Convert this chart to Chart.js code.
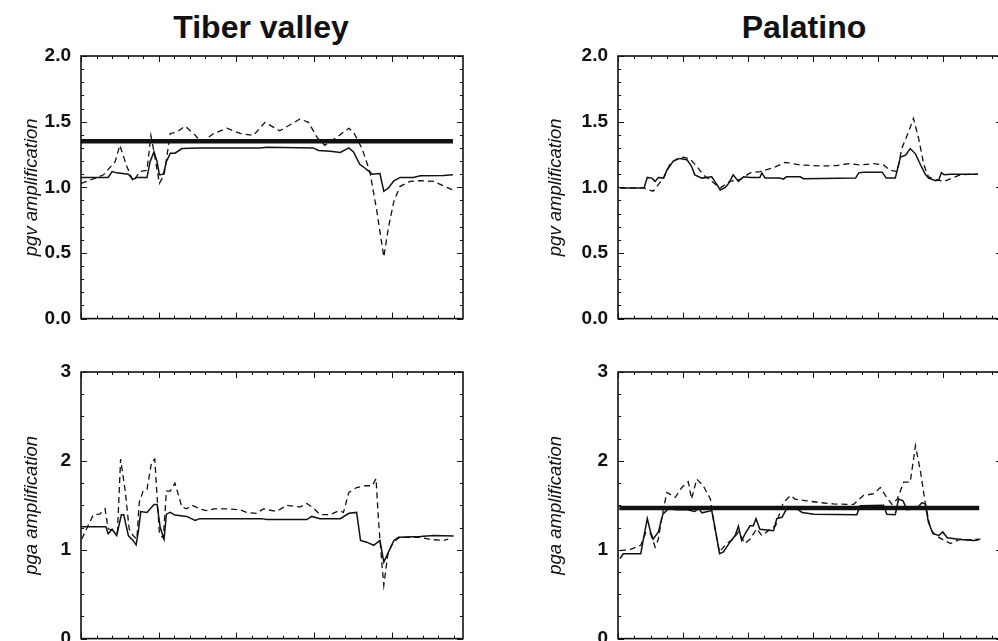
<!DOCTYPE html>
<html>
<head>
<meta charset="utf-8">
<script src="https://cdn.jsdelivr.net/npm/chart.js@4.4.1/dist/chart.umd.min.js"></script>
<style>
  html, body { margin: 0; padding: 0; background: #fff; overflow: hidden; width: 998px; height: 641px; }
  canvas { position: absolute; }
  .heading {
    position: absolute; transform: translateX(-50%); white-space: nowrap;
    font-family: "Liberation Sans", Arial, sans-serif; font-weight: bold; font-size: 32px; color: #111;
  }
</style>
</head>
<body>
<div class="heading" style="left:261px; top:9px">Tiber valley</div>
<div class="heading" style="left:804px; top:9px">Palatino</div>
<canvas id="tiberPgv" width="480" height="340" style="left:0; top:0"></canvas>
<canvas id="tiberPga" width="480" height="320" style="left:0; top:340px"></canvas>
<canvas id="palatinoPgv" width="500" height="340" style="left:520px; top:0"></canvas>
<canvas id="palatinoPga" width="500" height="320" style="left:520px; top:340px"></canvas>
<script>
// distance along profile (major tick = 1 unit), amplification values
const tiberPgvSolid = [[0,1.075],[0.35,1.075],[0.40,1.12],[0.46,1.11],[0.61,1.10],[0.67,1.06],[0.72,1.075],[0.85,1.075],[0.89,1.195],[0.94,1.27],[0.98,1.195],[1.01,1.095],[1.06,1.10],[1.10,1.195],[1.15,1.26],[1.21,1.26],[1.30,1.295],[1.53,1.30],[2.31,1.30],[2.39,1.305],[2.99,1.30],[3.06,1.28],[3.21,1.275],[3.34,1.265],[3.45,1.30],[3.51,1.27],[3.59,1.175],[3.66,1.145],[3.75,1.10],[3.85,1.105],[3.90,0.97],[3.96,0.995],[4.03,1.05],[4.11,1.075],[4.28,1.075],[4.37,1.0875],[4.67,1.09],[4.79,1.095]];
const tiberPgvDashed = [[0,1.03],[0.14,1.06],[0.29,1.095],[0.44,1.195],[0.50,1.32],[0.59,1.16],[0.67,1.045],[0.76,1.12],[0.85,1.13],[0.90,1.395],[0.94,1.27],[1.01,1.03],[1.07,1.095],[1.15,1.41],[1.23,1.42],[1.34,1.465],[1.45,1.41],[1.55,1.345],[1.71,1.41],[1.88,1.45],[2.05,1.41],[2.22,1.395],[2.37,1.495],[2.56,1.43],[2.82,1.52],[2.93,1.495],[3.04,1.38],[3.14,1.32],[3.29,1.38],[3.45,1.45],[3.51,1.42],[3.62,1.295],[3.72,1.12],[3.81,0.82],[3.90,0.47],[3.96,0.695],[4.03,0.895],[4.11,1.0075],[4.24,1.045],[4.37,1.05],[4.54,1.045],[4.71,1.0],[4.79,0.98]];
const tiberPgvMean = [[0,1.35],[4.79,1.35]];

const tiberPgaSolid = [[0.01,1.26],[0.32,1.26],[0.35,1.18],[0.40,1.23],[0.46,1.16],[0.52,1.395],[0.55,1.395],[0.61,1.16],[0.67,1.105],[0.71,1.055],[0.74,1.215],[0.77,1.43],[0.85,1.42],[0.94,1.51],[0.98,1.51],[1.02,1.25],[1.07,1.12],[1.10,1.40],[1.15,1.42],[1.21,1.39],[1.36,1.375],[1.47,1.33],[1.53,1.35],[2.33,1.35],[2.39,1.34],[2.91,1.34],[2.97,1.375],[3.08,1.35],[3.34,1.35],[3.45,1.41],[3.55,1.42],[3.60,1.105],[3.68,1.085],[3.77,1.05],[3.85,1.105],[3.90,0.86],[3.96,0.975],[4.03,1.105],[4.09,1.14],[4.37,1.15],[4.54,1.16],[4.80,1.155]];
const tiberPgaDashed = [[0.01,1.12],[0.09,1.27],[0.16,1.395],[0.24,1.40],[0.31,1.46],[0.35,1.235],[0.42,1.215],[0.47,1.20],[0.51,2.02],[0.57,1.66],[0.62,1.235],[0.67,1.16],[0.72,1.12],[0.75,1.53],[0.80,1.66],[0.85,1.68],[0.91,1.99],[0.95,2.02],[1.01,1.18],[1.06,1.13],[1.10,1.66],[1.15,1.66],[1.21,1.75],[1.30,1.48],[1.36,1.46],[1.43,1.50],[1.53,1.46],[1.62,1.44],[1.71,1.46],[1.88,1.46],[2.05,1.45],[2.13,1.42],[2.26,1.41],[2.35,1.46],[2.52,1.43],[2.65,1.50],[2.82,1.48],[2.91,1.52],[2.99,1.47],[3.08,1.395],[3.21,1.395],[3.32,1.44],[3.38,1.42],[3.45,1.645],[3.55,1.70],[3.66,1.72],[3.75,1.72],[3.80,1.80],[3.83,1.35],[3.87,0.90],[3.90,0.60],[3.95,0.94],[4.00,1.05],[4.07,1.12],[4.11,1.14],[4.37,1.14],[4.50,1.115],[4.67,1.105],[4.73,1.12]];

const palatinoPgvSolid = [[0.03,0.995],[0.40,0.995],[0.45,1.075],[0.52,1.07],[0.57,1.045],[0.62,1.075],[0.70,1.07],[0.75,1.13],[0.85,1.20],[0.95,1.22],[1.06,1.21],[1.13,1.16],[1.18,1.095],[1.29,1.07],[1.44,1.08],[1.52,1.02],[1.57,0.98],[1.65,1.0],[1.70,1.03],[1.77,1.095],[1.85,1.045],[1.93,1.08],[2.03,1.075],[2.18,1.075],[2.21,1.11],[2.26,1.07],[2.49,1.07],[2.54,1.0625],[2.59,1.08],[2.80,1.08],[2.85,1.065],[3.65,1.07],[3.70,1.11],[3.77,1.115],[4.06,1.115],[4.12,1.07],[4.26,1.07],[4.34,1.23],[4.42,1.245],[4.49,1.295],[4.57,1.255],[4.65,1.17],[4.72,1.10],[4.77,1.07],[4.88,1.05],[4.93,1.0575],[4.97,1.1125],[5.01,1.095],[5.11,1.10],[5.31,1.10],[5.53,1.10]];
const palatinoPgvDashed = [[0.03,0.995],[0.40,0.995],[0.47,0.98],[0.54,0.97],[0.62,1.02],[0.70,1.07],[0.80,1.18],[0.90,1.215],[1.01,1.23],[1.11,1.215],[1.21,1.16],[1.31,1.095],[1.44,1.045],[1.57,0.995],[1.72,1.045],[1.88,1.06],[2.03,1.11],[2.18,1.12],[2.39,1.15],[2.57,1.19],[2.80,1.17],[3.11,1.1625],[3.36,1.165],[3.54,1.18],[3.72,1.17],[3.93,1.18],[4.08,1.17],[4.18,1.13],[4.29,1.12],[4.36,1.295],[4.47,1.43],[4.54,1.525],[4.62,1.37],[4.70,1.17],[4.77,1.08],[4.88,1.0575],[5.01,1.045],[5.13,1.07],[5.26,1.095],[5.53,1.10]];

const palatinoPgaSolid = [[0.03,0.90],[0.08,0.955],[0.35,0.955],[0.40,1.16],[0.45,1.35],[0.50,1.20],[0.54,1.12],[0.62,1.20],[0.69,1.40],[0.77,1.46],[0.90,1.45],[1.06,1.45],[1.18,1.43],[1.24,1.465],[1.29,1.415],[1.44,1.44],[1.48,1.29],[1.56,0.955],[1.62,0.975],[1.72,1.085],[1.80,1.16],[1.85,1.265],[1.90,1.105],[1.97,1.20],[2.03,1.27],[2.08,1.27],[2.12,1.35],[2.18,1.23],[2.39,1.215],[2.44,1.35],[2.52,1.365],[2.59,1.46],[2.75,1.46],[2.83,1.42],[3.01,1.40],[3.67,1.395],[3.72,1.495],[4.08,1.50],[4.13,1.40],[4.26,1.395],[4.31,1.57],[4.38,1.55],[4.44,1.45],[4.59,1.46],[4.67,1.53],[4.72,1.515],[4.77,1.31],[4.84,1.18],[4.93,1.16],[4.99,1.20],[5.06,1.135],[5.26,1.115],[5.47,1.105],[5.54,1.11]];
const palatinoPgaDashed = [[0.03,0.99],[0.18,1.00],[0.35,1.05],[0.43,1.20],[0.50,1.18],[0.57,1.03],[0.62,1.12],[0.67,1.35],[0.75,1.645],[0.88,1.59],[0.98,1.70],[1.08,1.765],[1.13,1.57],[1.21,1.795],[1.31,1.72],[1.42,1.57],[1.48,1.27],[1.56,0.975],[1.67,1.07],[1.77,1.12],[1.85,1.20],[1.95,1.07],[2.03,1.12],[2.13,1.235],[2.21,1.16],[2.31,1.215],[2.42,1.27],[2.54,1.53],[2.65,1.61],[2.72,1.57],[2.90,1.55],[3.11,1.53],[3.31,1.515],[3.62,1.51],[3.77,1.61],[3.93,1.63],[4.03,1.70],[4.11,1.61],[4.21,1.51],[4.29,1.57],[4.39,1.76],[4.49,1.76],[4.57,2.17],[4.65,1.87],[4.72,1.53],[4.80,1.235],[4.88,1.16],[5.01,1.105],[5.11,1.07],[5.26,1.12],[5.39,1.11],[5.57,1.12]];
const palatinoPgaMean = [[0.02,1.47],[5.55,1.47]];

const yTicksPgv = [0, 0.5, 1.0, 1.5, 2.0];
const yTicksPga = [0, 1, 2, 3];

const toPoints = arr => arr.map(p => ({ x: p[0], y: p[1] }));

// frame with inward ticks on all four sides
const framePlugin = {
  id: 'frame',
  afterDatasetsDraw(chart, args, opts) {
    const { ctx, chartArea: a, scales: { x, y } } = chart;
    ctx.save();
    ctx.strokeStyle = '#111';
    ctx.lineWidth = 1;
    const tick = (x1, y1, x2, y2) => { ctx.beginPath(); ctx.moveTo(x1, y1); ctx.lineTo(x2, y2); ctx.stroke(); };
    const isMajor = (v, step) => Math.abs(v / step - Math.round(v / step)) < 1e-6;
    for (let i = 0; i * opts.xMinor <= x.max + 1e-9; i++) {
      const v = i * opts.xMinor;
      const px = Math.round(x.getPixelForValue(v)) + 0.5;
      const len = isMajor(v, opts.xMajor) ? 6 : 3;
      tick(px, a.top, px, a.top + len);
      tick(px, a.bottom, px, a.bottom - len);
    }
    for (let i = 0; i * opts.yMinor <= y.max + 1e-9; i++) {
      const v = i * opts.yMinor;
      const py = Math.round(y.getPixelForValue(v)) + 0.5;
      const len = isMajor(v, opts.yMajor) ? 6 : 3;
      tick(a.left, py, a.left + len, py);
      tick(a.right, py, a.right - len, py);
    }
    ctx.lineWidth = 1.6;
    ctx.strokeRect(a.left, a.top, a.right - a.left, a.bottom - a.top);
    ctx.restore();
  }
};

function makePanel(id, cfg) {
  const datasets = [];
  if (cfg.mean) {
    datasets.push({ data: toPoints(cfg.mean), borderColor: '#111', borderWidth: 4.5 });
  }
  datasets.push({ data: toPoints(cfg.solid), borderColor: '#111', borderWidth: 1.5 });
  datasets.push({ data: toPoints(cfg.dashed), borderColor: '#111', borderWidth: 1.3, borderDash: [6, 4] });

  new Chart(document.getElementById(id), {
    type: 'line',
    data: { datasets },
    options: {
      responsive: false,
      animation: false,
      layout: { padding: cfg.padding },
      elements: { point: { radius: 0 }, line: { tension: 0, fill: false } },
      plugins: {
        legend: { display: false },
        tooltip: { enabled: false },
        frame: { xMinor: cfg.xMinor, xMajor: 1, yMinor: cfg.yMinor, yMajor: cfg.yMajor }
      },
      scales: {
        x: { type: 'linear', min: 0, max: cfg.xMax, display: false },
        y: {
          min: 0, max: cfg.yMax,
          afterBuildTicks: s => { s.ticks = cfg.yTicks.map(v => ({ value: v })); },
          afterFit: s => { s.width = cfg.axisWidth; },
          grid: { display: false, drawTicks: false },
          border: { display: false },
          ticks: {
            padding: 10, color: '#111',
            font: { family: '"Liberation Sans", Arial, sans-serif', size: 19, weight: 'bold' },
            callback: v => cfg.yMax === 2 ? Number(v).toFixed(1) : String(v)
          },
          title: {
            display: true, text: cfg.title, color: '#111', padding: 0,
            font: { family: '"Liberation Sans", Arial, sans-serif', size: 18.5, style: 'italic' }
          }
        }
      }
    },
    plugins: [framePlugin]
  });
}

makePanel('tiberPgv', {
  solid: tiberPgvSolid, dashed: tiberPgvDashed, mean: tiberPgvMean,
  xMax: 4.92, xMinor: 0.2, yMax: 2, yMinor: 0.1, yMajor: 0.5, yTicks: yTicksPgv,
  title: 'pgv amplification', axisWidth: 60,
  padding: { left: 21, right: 17, top: 56, bottom: 17 }
});
makePanel('tiberPga', {
  solid: tiberPgaSolid, dashed: tiberPgaDashed,
  xMax: 4.92, xMinor: 0.2, yMax: 3, yMinor: 0.25, yMajor: 1, yTicks: yTicksPga,
  title: 'pga amplification', axisWidth: 60,
  padding: { left: 21, right: 17, top: 32, bottom: 20 }
});
makePanel('palatinoPgv', {
  solid: palatinoPgvSolid, dashed: palatinoPgvDashed,
  xMax: 5.9, xMinor: 0.25, yMax: 2, yMinor: 0.1, yMajor: 0.5, yTicks: yTicksPgv,
  title: 'pgv amplification', axisWidth: 73,
  padding: { left: 25, right: 18, top: 56, bottom: 17 }
});
makePanel('palatinoPga', {
  solid: palatinoPgaSolid, dashed: palatinoPgaDashed, mean: palatinoPgaMean,
  xMax: 5.9, xMinor: 0.25, yMax: 3, yMinor: 0.25, yMajor: 1, yTicks: yTicksPga,
  title: 'pga amplification', axisWidth: 73,
  padding: { left: 25, right: 18, top: 32, bottom: 20 }
});
</script>
</body>
</html>
